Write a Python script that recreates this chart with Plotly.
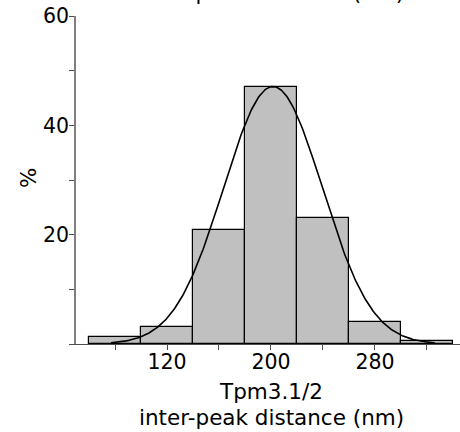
import numpy as np
import plotly.graph_objects as go

bin_centers = [80, 120, 160, 200, 240, 280, 320]
percent = [1.2, 3.1, 20.8, 47.1, 23.0, 4.0, 0.55]
bin_width = 40

fit_mean = 201.5
fit_sd = 38.0
fit_peak = 47.1
fit_range = [77, 326]

x_tickvals = [80, 120, 160, 200, 240, 280, 320]
x_ticktext = ["", "120", "", "200", "", "280", ""]
y_tickvals = [0, 10, 20, 30, 40, 50, 60]
y_ticktext = ["", "", "20", "", "40", "", "60"]

x_title_lines = ["Tpm3.1/2", "inter-peak distance (nm)"]
y_title = "%"
top_title = "inter-peak distance (nm)"

FONT = "DejaVu Sans"
TITLE_SIZE = 21.5
TICK_SIZE = 20.5

# plot-area geometry (pixels) used to place annotations
PL, PT, PB, H = 76, 16, 88, 432
PW = 460 - PL
PH = H - PT - PB


def px_y(ypx):
    return (H - PB - ypx) / PH


def px_x(xpx):
    return (xpx - PL) / PW


fx = np.linspace(fit_range[0], fit_range[1], 300)
fy = fit_peak * np.exp(-0.5 * ((fx - fit_mean) / fit_sd) ** 2)

fig = go.Figure()
fig.add_trace(go.Bar(
    x=bin_centers, y=percent, width=bin_width,
    marker=dict(color="#c0c0c0", line=dict(color="#000000", width=1.2)),
    showlegend=False,
))
fig.add_trace(go.Scatter(
    x=fx, y=fy, mode="lines",
    line=dict(color="#000000", width=1.6),
    showlegend=False,
))

ann_font = dict(family=FONT, size=TITLE_SIZE, color="#000000")
fig.update_layout(
    width=460, height=432,
    margin=dict(l=PL, r=0, t=PT, b=PB),
    paper_bgcolor="white", plot_bgcolor="white",
    font=dict(family=FONT, size=20, color="#000000"),
    bargap=0,
    xaxis=dict(
        range=[50, 345.4], showgrid=False, zeroline=False,
        showline=True, linecolor="#4d4d4d", linewidth=1.2,
        ticks="outside", ticklen=5, tickcolor="#4d4d4d", tickwidth=1,
        tickvals=x_tickvals, ticktext=x_ticktext,
        tickfont=dict(family=FONT, size=TICK_SIZE),
        ticklabelstandoff=-6,
    ),
    yaxis=dict(
        range=[0, 60], showgrid=False, zeroline=False,
        showline=True, linecolor="#808080", linewidth=1.5,
        ticks="outside", ticklen=5, tickcolor="#4d4d4d", tickwidth=1,
        tickvals=y_tickvals, ticktext=y_ticktext,
        tickfont=dict(family=FONT, size=TICK_SIZE),
        ticklabelstandoff=-4,
    ),
    annotations=[
        dict(text=top_title, xref="paper", yref="paper",
             x=px_x(271), y=px_y(7), xanchor="center", yanchor="bottom",
             showarrow=False, font=ann_font),
        dict(text=x_title_lines[0], xref="paper", yref="paper",
             x=px_x(271), y=px_y(392), xanchor="center", yanchor="middle",
             showarrow=False, font=ann_font),
        dict(text=x_title_lines[1], xref="paper", yref="paper",
             x=px_x(271), y=px_y(417), xanchor="center", yanchor="middle",
             showarrow=False, font=ann_font),
        dict(text=y_title, xref="paper", yref="paper", textangle=-90,
             x=px_x(28), y=px_y(178), xanchor="center", yanchor="middle",
             showarrow=False, font=ann_font),
    ],
)

fig.write_html("out.html")
